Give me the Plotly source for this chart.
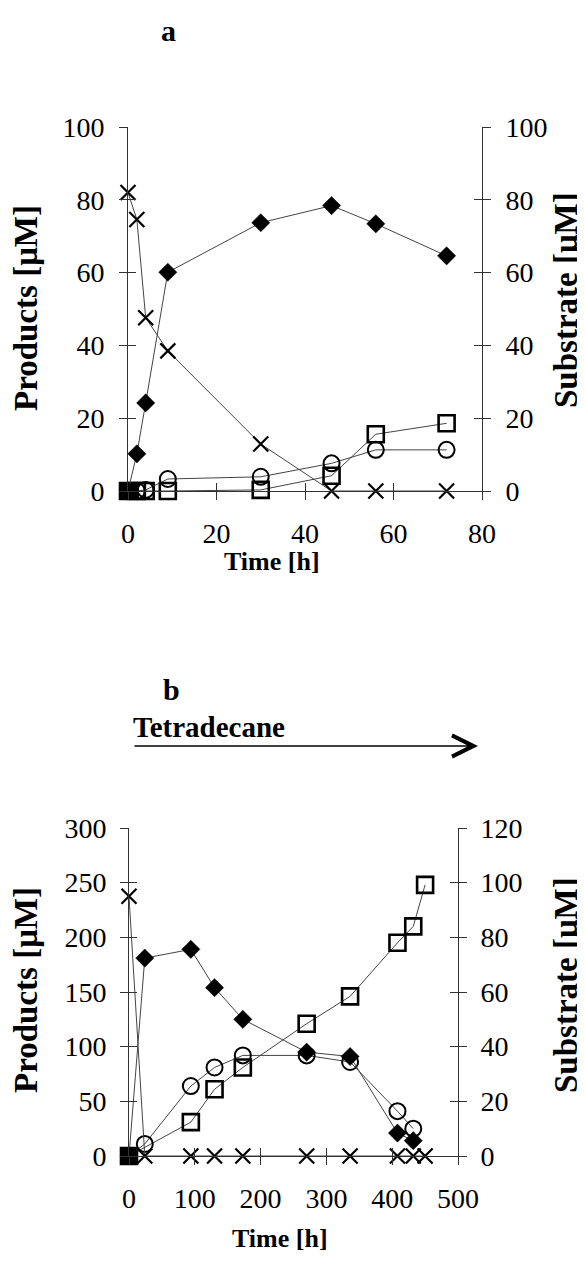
import plotly.graph_objects as go

# the page body has an 8px margin, so the figure is drawn 8px in from the
# top-left corner of the window; reference pixel positions are mapped accordingly
OFF = 8
W, H = 585 - OFF, 1263 - OFF
FONT = "Liberation Serif, Times New Roman, serif"

# ---------------- Panel a data ----------------
t_a = [0, 2, 4, 9, 30, 46, 56, 72]
diamond_a = [0, 10.2, 24.2, 60.1, 73.7, 78.4, 73.4, 64.6]
circle_a = [0, 0, 0.3, 3.3, 3.9, 7.6, 11.3, 11.3]
square_a = [0, 0, 0, 0, 0.3, 4.2, 15.6, 18.6]
substrate_a = [82, 74.6, 47.6, 38.5, 12.9, 0, 0, 0]

# ---------------- Panel b data ----------------
t_b_diamond = [0, 24, 94, 130, 173, 270, 336, 408, 432]
diamond_b = [0, 181, 189, 154, 125, 95, 91, 21, 14]
t_b_circle = [0, 24, 94, 130, 173, 270, 336, 408, 432]
circle_b = [0, 11, 64, 81, 92, 92, 86, 41, 25]
t_b_square = [0, 94, 130, 173, 270, 336, 408, 432, 450]
square_b = [0, 31, 61, 81, 121, 146, 195, 210, 248]
t_b_sub = [0, 24, 94, 130, 173, 270, 336, 408, 432, 450]
substrate_b = [95, 0, 0, 0, 0, 0, 0, 0, 0, 0]

# axis ranges / ticks
xa_range, xa_dtick = [0, 80], 20
ya_range, ya_dtick = [0, 100], 20
y2a_range, y2a_dtick = [0, 100], 20
xb_range, xb_dtick = [0, 500], 100
yb_range, yb_dtick = [0, 300], 50
y2b_range, y2b_dtick = [0, 120], 20


def fx(p):
    return (p - OFF) / W


def fy(p):
    return 1 - (p - OFF) / H


dom_xa = [fx(128), fx(482)]
dom_ya = [fy(491), fy(127)]
dom_xb = [fx(129), fx(458)]
dom_yb = [fy(1156), fy(828)]

LINE_C = "#333333"
tickfont = dict(family=FONT, size=28, color="black")

fig = go.Figure()


def add_series(x, y, xa, ya, symbol, size, lw, color="black"):
    fig.add_trace(go.Scatter(
        x=x, y=y, xaxis=xa, yaxis=ya, mode="lines+markers",
        line=dict(color="#444444", width=1),
        marker=dict(symbol=symbol, size=size, color=color,
                    line=dict(color="black", width=lw)),
        cliponaxis=False, showlegend=False, hoverinfo="x+y"))


# panel a
add_series(t_a, square_a, "x", "y",
           ["square"] + ["square-open"] * (len(t_a) - 1), 16, 2.6)
add_series(t_a, circle_a, "x", "y", "circle-open", 16, 2.0)
add_series(t_a, diamond_a, "x", "y", "diamond", 14, 0.5)
add_series(t_a, substrate_a, "x", "y2", "x-thin-open", 15, 2.2)

# panel b
add_series(t_b_square, square_b, "x2", "y3",
           ["square"] + ["square-open"] * (len(t_b_square) - 1), 16, 2.6)
add_series(t_b_circle, circle_b, "x2", "y3", "circle-open", 16, 2.0)
add_series(t_b_diamond, diamond_b, "x2", "y3", "diamond", 14, 0.5)
add_series(t_b_sub, substrate_b, "x2", "y4", "x-thin-open", 15, 2.2)

# empty traces so the inside-tick overlay axes get drawn
for xa, ya in [("x5", "y5"), ("x5", "y6"), ("x6", "y7"), ("x6", "y8")]:
    fig.add_trace(go.Scatter(x=[], y=[], xaxis=xa, yaxis=ya,
                             showlegend=False, hoverinfo="skip"))


def main_axis(domain, rng, dtick, anchor, side=None, standoff=12, overlaying=None):
    d = dict(domain=domain, range=rng, dtick=dtick, tick0=0, anchor=anchor,
             showline=True, linecolor=LINE_C, linewidth=1,
             ticks="outside", ticklen=8, tickwidth=1, tickcolor=LINE_C,
             showgrid=False, zeroline=False, tickfont=tickfont,
             ticklabelstandoff=standoff, fixedrange=True, automargin=False)
    if side:
        d["side"] = side
    if overlaying:
        d.pop("domain")
        d["overlaying"] = overlaying
    return d


def inner_axis(rng, dtick, anchor, overlaying, side=None):
    d = dict(range=rng, dtick=dtick, tick0=0, anchor=anchor,
             overlaying=overlaying, showline=False, ticks="inside",
             ticklen=8, tickwidth=1, tickcolor=LINE_C, showgrid=False,
             zeroline=False, showticklabels=False, fixedrange=True,
             automargin=False)
    if side:
        d["side"] = side
    return d


fig.update_layout(
    template="none",
    width=W, height=H,
    margin=dict(l=0, r=0, t=0, b=0, pad=0, autoexpand=False),
    paper_bgcolor="white", plot_bgcolor="white",
    showlegend=False,
    xaxis=main_axis(dom_xa, xa_range, xa_dtick, "y", standoff=9),
    yaxis=main_axis(dom_ya, ya_range, ya_dtick, "x", standoff=9),
    yaxis2=main_axis(None, y2a_range, y2a_dtick, "x", side="right",
                     standoff=9, overlaying="y"),
    xaxis2=main_axis(dom_xb, xb_range, xb_dtick, "y3", standoff=9),
    yaxis3=main_axis(dom_yb, yb_range, yb_dtick, "x2", standoff=8),
    yaxis4=main_axis(None, y2b_range, y2b_dtick, "x2", side="right",
                     standoff=8, overlaying="y3"),
    xaxis5=inner_axis(xa_range, xa_dtick, "y", "x"),
    yaxis5=inner_axis(ya_range, ya_dtick, "x", "y"),
    yaxis6=inner_axis(y2a_range, y2a_dtick, "x", "y", side="right"),
    xaxis6=inner_axis(xb_range, xb_dtick, "y3", "x2"),
    yaxis7=inner_axis(yb_range, yb_dtick, "x2", "y3"),
    yaxis8=inner_axis(y2b_range, y2b_dtick, "x2", "y3", side="right"),
)

bold = dict(family=FONT, color="black")


def text(t, x, y, size, angle=0, xanchor="center"):
    fig.add_annotation(text="<b>" + t + "</b>", x=fx(x), y=fy(y),
                       xref="paper", yref="paper", showarrow=False,
                       textangle=angle, xanchor=xanchor, yanchor="middle",
                       font=dict(size=size, **bold))


text("a", 168, 30, 30)
text("b", 171, 689, 30)
text("Tetradecane", 131, 727, 29, xanchor="left")
text("Time [h]", 272, 561, 26)
text("Time [h]", 280, 1238, 26)
text("Products [μM]", 26, 308, 33, angle=-90)
text("Substrate [μM]", 566, 300, 33, angle=-90)
text("Products [μM]", 26, 990, 33, angle=-90)
text("Substrate [μM]", 566, 985, 33, angle=-90)

# Tetradecane arrow
fig.add_annotation(x=fx(478), y=fy(746), ax=-(478 - 133), ay=0,
                   xref="paper", yref="paper", axref="pixel", ayref="pixel",
                   showarrow=True, arrowhead=5, arrowsize=3, arrowwidth=1.4,
                   arrowcolor="black", text="")

fig.write_html("out.html")
